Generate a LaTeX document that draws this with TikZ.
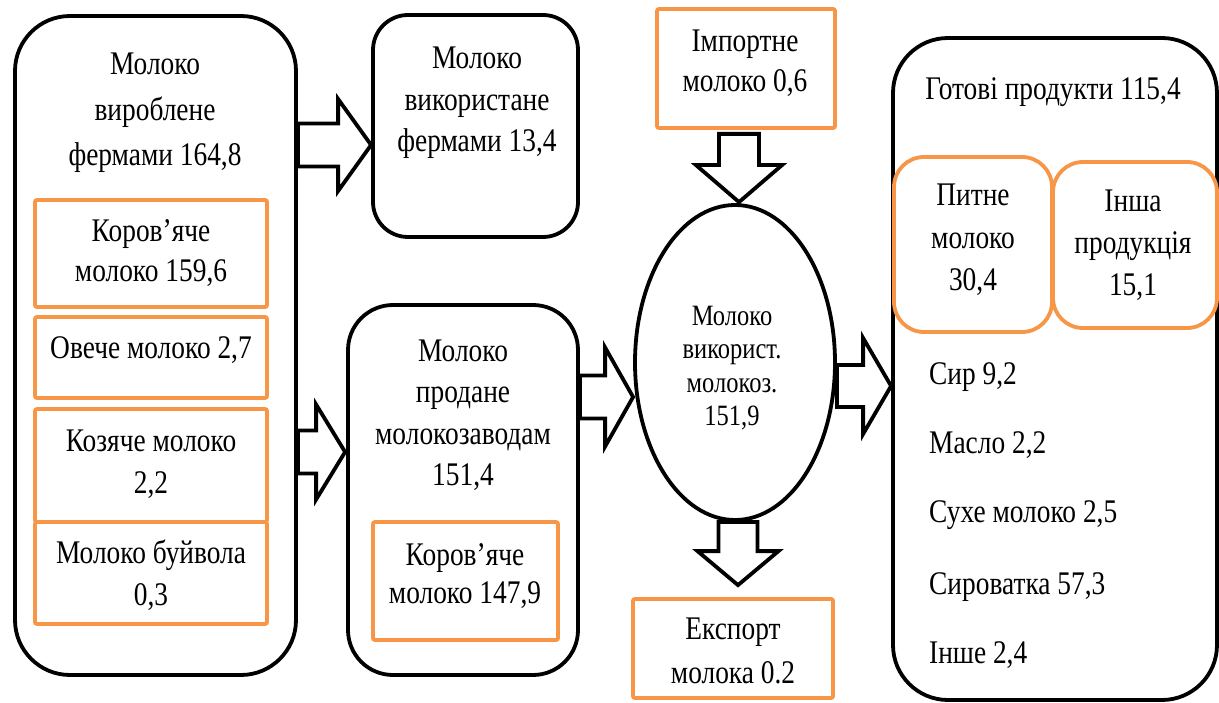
\documentclass[tikz,border=0pt]{standalone}
\usepackage{fontspec}
\setmainfont{Liberation Serif}[FakeStretch=0.83]
\usetikzlibrary{calc,shapes.geometric}
\definecolor{org}{HTML}{F79646}
\tikzset{
  blk/.style={draw=black, line width=3.8pt, fill=white, line join=miter},
  rbox/.style={draw=black, line width=3.8pt, rounded corners=#1, inner sep=0pt, fill=white, rectangle},
  obox/.style={draw=org, line width=3.8pt, rounded corners=#1, inner sep=0pt, rectangle},
  ebox/.style={draw=black, line width=3.8pt, inner sep=0pt, ellipse, fill=white},
  txt/.style={align=center, inner sep=0pt, font=\fontsize{33}{44}\selectfont},
  ltxt/.style={anchor=west, inner sep=0pt, font=\fontsize{33}{44}\selectfont},
}
% horizontal block arrow: start, tip, head length, shaft half width, head half width
\newcommand\harr[5]{\draw[blk] let \p1=(#1), \p2=(#2) in
  (\x1,\y2+#4) -- (\x2-#3,\y2+#4) -- (\x2-#3,\y2+#5) -- (\x2,\y2) --
  (\x2-#3,\y2-#5) -- (\x2-#3,\y2-#4) -- (\x1,\y2-#4) -- cycle;}
% vertical (downward) block arrow
\newcommand\varr[5]{\draw[blk] let \p1=(#1), \p2=(#2) in
  (\x2-#4,\y1) -- (\x2-#4,\y2+#3) -- (\x2-#5,\y2+#3) -- (\x2,\y2) --
  (\x2+#5,\y2+#3) -- (\x2+#4,\y2+#3) -- (\x2+#4,\y1) -- cycle;}
\begin{document}
\begin{tikzpicture}[x=1pt,y=-1pt]
\useasboundingbox[fill=white] (0,0) rectangle (1219,703);

% left column
\node[rbox=55pt, minimum width=281pt, minimum height=659pt] (L) at (155.5,345.5) {};
\node[txt, font=\fontsize{33}{45.5}\selectfont] (Lt) at (155,113) {Молоко\\вироблене\\фермами 164,8};
\node[obox=2pt, minimum width=232pt, minimum height=107pt] (o1) at (151,253.5) {};
\node[txt, font=\fontsize{33}{40}\selectfont] (o1t) at (151,253) {Коров’яче\\молоко 159,6};
\node[obox=2pt, minimum width=232pt, minimum height=81pt] (o2) at (151,357.5) {};
\node[txt] (o2t) at (151,350) {Овече молоко 2,7};
\node[obox=2pt, minimum width=232pt, minimum height=113pt] (o3) at (151,465.5) {};
\node[txt, font=\fontsize{33}{42}\selectfont] (o3t) at (151,464) {Козяче молоко\\2,2};
\node[obox=2pt, minimum width=232pt, minimum height=102pt] (o4) at (151,573) {};
\node[txt, font=\fontsize{33}{42}\selectfont] (o4t) at (151,575) {Молоко буйвола\\0,3};

% middle column
\node[rbox=35pt, minimum width=205pt, minimum height=222pt] (T) at (475.5,126) {};
\node[txt, font=\fontsize{33}{41.5}\selectfont] (Tt) at (477,103) {Молоко\\використане\\фермами 13,4};
\node[rbox=45pt, minimum width=230pt, minimum height=370pt] (M) at (463,490) {};
\node[txt, font=\fontsize{33}{41.5}\selectfont] (Mt) at (463,415) {Молоко\\продане\\молокозаводам\\151,4};
\node[obox=2pt, minimum width=185pt, minimum height=118pt] (o5) at (465.5,581) {};
\node[txt, font=\fontsize{33}{38}\selectfont] (o5t) at (465,576) {Коров’яче\\молоко 147,9};

% centre column
\node[obox=2pt, minimum width=178pt, minimum height=119pt] (Im) at (746,68.5) {};
\node[txt, font=\fontsize{33}{40}\selectfont] (Imt) at (745,63) {Імпортне\\молоко 0,6};
\node[ebox, minimum width=200pt, minimum height=315pt] (E) at (735,362.5) {};
\node[txt, font=\fontsize{29.5}{33.5}\selectfont] (Et) at (732,368) {Молоко\\використ.\\молокоз.\\151,9};
\node[obox=2pt, minimum width=200pt, minimum height=99pt] (Ex) at (733,648.5) {};
\node[txt] (Ext) at (733,651) {Експорт\\молока 0.2};

% right column
\node[rbox=55pt, minimum width=324pt, minimum height=662pt] (R) at (1055,369) {};
\node[txt] (Rt) at (1053,92) {Готові продукти 115,4};
\node[obox=30pt, minimum width=158pt, minimum height=175pt, fill=white] (P) at (973,244.5) {};
\node[txt, font=\fontsize{33}{42.5}\selectfont] (Pt) at (973,240) {Питне\\молоко\\30,4};
\node[obox=30pt, minimum width=164pt, minimum height=166pt, fill=white] (I) at (1135,245) {};
\node[txt, font=\fontsize{33}{42}\selectfont] (It) at (1133,245) {Інша\\продукція\\15,1};
\node[ltxt] (r1) at (929,377) {Сир 9,2};
\node[ltxt] (r2) at (929,445) {Масло 2,2};
\node[ltxt] (r3) at (929,515) {Сухе молоко 2,5};
\node[ltxt] (r4) at (929,587) {Сироватка 57,3};
\node[ltxt] (r5) at (929,655) {Інше 2,4};

% block arrows
\harr{L.east}{$(T.west)+(0,19)$}{33pt}{21.5pt}{46pt}
\harr{L.east}{$(M.west)+(-1,-38)$}{29pt}{21.5pt}{47.5pt}
\harr{M.east}{$(E.west)+(0,34.5)$}{28pt}{21.5pt}{49.5pt}
\harr{E.east}{$(R.west)+(0,17)$}{28pt}{21pt}{48pt}
\varr{$(Im.south)+(0,4)$}{$(E.north)+(4,-1)$}{37pt}{20pt}{43pt}
\varr{E.south}{$(Ex.north)+(5,-12)$}{34pt}{19.5pt}{40.5pt}
\end{tikzpicture}
\end{document}
